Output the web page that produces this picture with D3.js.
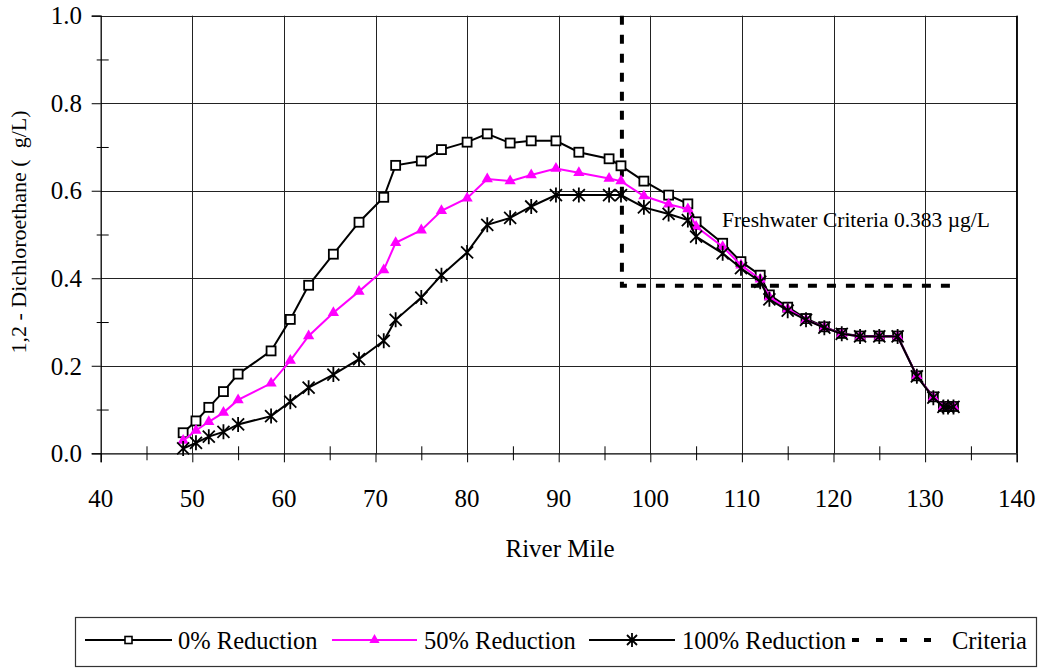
<!DOCTYPE html>
<html><head><meta charset="utf-8">
<script src="https://cdn.jsdelivr.net/npm/d3@7"></script>
<style>body{margin:0;background:#fff;}</style>
</head><body><svg id="c" width="1043" height="669"></svg>
<script>
const riverMile = [49.0,50.4,51.8,53.4,55.0,58.6,60.7,62.7,65.4,68.2,70.9,72.2,75.0,77.2,80.0,82.2,84.7,87.0,89.7,92.2,95.5,96.8,99.3,102.0,104.1,105.0,107.9,109.9,112.0,113.0,115.0,117.0,119.0,120.9,122.9,125.0,127.0,129.1,130.9,132.0,132.5,133.1];
const red0 = [0.047,0.074,0.105,0.141,0.181,0.234,0.306,0.384,0.455,0.528,0.585,0.658,0.668,0.694,0.711,0.730,0.709,0.714,0.714,0.688,0.673,0.657,0.622,0.590,0.570,0.529,0.480,0.438,0.407,0.362,0.334,0.308,0.289,0.274,0.268,0.268,0.268,0.177,0.129,0.107,0.107,0.107];
const red50 = [0.029,0.052,0.072,0.093,0.122,0.160,0.212,0.268,0.321,0.370,0.419,0.481,0.510,0.554,0.583,0.627,0.622,0.636,0.651,0.641,0.628,0.622,0.588,0.569,0.558,0.518,0.472,0.430,0.398,0.357,0.330,0.305,0.288,0.273,0.267,0.267,0.267,0.177,0.128,0.107,0.107,0.107];
const red100 = [0.011,0.024,0.038,0.049,0.066,0.085,0.118,0.150,0.180,0.215,0.257,0.305,0.356,0.407,0.459,0.522,0.538,0.564,0.590,0.590,0.590,0.590,0.562,0.547,0.533,0.495,0.457,0.423,0.392,0.352,0.326,0.305,0.287,0.273,0.267,0.267,0.267,0.176,0.127,0.106,0.106,0.106];
const criteriaX = [96.9, 96.9, 132.8];
const criteriaY = [1.0, 0.383, 0.383];
const xTicks = [40,50,60,70,80,90,100,110,120,130,140];
const yTicks = [0.0,0.2,0.4,0.6,0.8,1.0];
const seriesNames = ["0% Reduction","50% Reduction","100% Reduction","Criteria"];
const criteriaLabel = "Freshwater Criteria 0.383 \u00b5g/L";
const xTitle = "River Mile";
const yTitle = "1,2 - Dichloroethane (\u00a0\u00a0g/L)";

const svg = d3.select("#c");
const L = 100.7, R = 1016.7, T = 15.7, B = 453.3;
const x = d3.scaleLinear().domain([40,140]).range([L,R]);
const y = d3.scaleLinear().domain([0,1]).range([B,T]);
const BASE = 20;
function label(parent, px, py, size, str, anchor, rot, dy){
  return parent.append("text")
    .attr("transform", `translate(${px},${py})${rot?` rotate(${rot})`:""} scale(${size/BASE})`)
    .style("font", BASE+"px 'Liberation Serif'").style("fill","#000")
    .attr("text-anchor", anchor||"start").attr("dy", dy||0).text(str);
}

// gridlines
const g = svg.append("g");
g.selectAll(".vg").data(xTicks.slice(1)).join("line")
  .attr("x1",d=>Math.round(x(d))+0.5).attr("x2",d=>Math.round(x(d))+0.5)
  .attr("y1",y(1)).attr("y2",y(0)).attr("stroke","#222").attr("stroke-width",1);
g.selectAll(".hg").data(yTicks.slice(1)).join("line")
  .attr("x1",x(40)).attr("x2",x(140))
  .attr("y1",d=>Math.round(y(d))+0.5).attr("y2",d=>Math.round(y(d))+0.5).attr("stroke","#222").attr("stroke-width",1);

// axes (lines via d3, labels drawn from the same scales)
const xAxis = d3.axisBottom(x).tickValues(xTicks).tickSize(9).tickFormat("");
const xg = svg.append("g").attr("transform",`translate(0,${B})`).call(xAxis);
const yAxis = d3.axisLeft(y).tickValues(yTicks).tickSize(9).tickFormat("");
const yg = svg.append("g").attr("transform",`translate(${L},0)`).call(yAxis);
[xg,yg].forEach(a=>{
  a.select(".domain").attr("stroke","#000").attr("stroke-width",1.3);
  a.selectAll(".tick line").attr("stroke","#000").attr("stroke-width",1);
});
const labs = svg.append("g");
xTicks.forEach(v=>label(labs, x(v), 507, 25, d3.format("d")(v), "middle"));
yTicks.forEach(v=>label(labs, 82, y(v), 25, d3.format(".1f")(v), "end", 0, "0.35em"));
// minor ticks
const xMinor = d3.axisBottom(x).tickValues(d3.range(45,140,10)).tickSize(7).tickFormat("");
svg.append("g").attr("transform",`translate(0,${B})`).call(xMinor)
  .call(a=>{a.select(".domain").remove();a.selectAll("line").attr("y1",-7).attr("stroke","#000");});
const yMinor = d3.axisLeft(y).tickValues([0.1,0.3,0.5,0.7,0.9]).tickSize(4).tickFormat("");
svg.append("g").attr("transform",`translate(${L},0)`).call(yMinor)
  .call(a=>{a.select(".domain").remove();a.selectAll("line").attr("x2",8).attr("x1",-4).attr("stroke","#000");});
// right border
svg.append("line").attr("x1",x(140)).attr("x2",x(140)).attr("y1",y(1)).attr("y2",y(0)).attr("stroke","#000").attr("stroke-width",1.3);

// titles
label(svg, 560, 557, 25, xTitle, "middle");
label(svg, 26, 232, 22, yTitle, "middle", -90);

// criteria line
const line = d3.line().x(d=>x(d[0])).y(d=>y(d[1]));
svg.append("path").datum(criteriaX.map((v,i)=>[v,criteriaY[i]])).attr("d",line)
  .attr("fill","none").attr("stroke","#000").attr("stroke-width",4).attr("stroke-dasharray","9,10");
label(svg, 722, 227, 21.5, criteriaLabel, "start");

// markers
const starPath = "M-6,-6L6,6M-6,6L6,-6M0,-7.5L0,7.5";
function drawSeries(vals,color,marker){
  const pts = riverMile.map((v,i)=>[v,vals[i]]);
  svg.append("path").datum(pts).attr("d",line).attr("fill","none").attr("stroke",color).attr("stroke-width",2);
  const gm = svg.append("g");
  pts.forEach(p=>{
    const cx=x(p[0]), cy=y(p[1]);
    if(marker==="square") gm.append("rect").attr("x",cx-4.5).attr("y",cy-4.5).attr("width",9).attr("height",9).attr("fill","#fff").attr("stroke","#000").attr("stroke-width",1.8);
    else if(marker==="tri") gm.append("path").attr("d",d3.symbol(d3.symbolTriangle,55)()).attr("transform",`translate(${cx},${cy})`).attr("fill",color);
    else gm.append("path").attr("d",starPath).attr("transform",`translate(${cx},${cy})`).attr("stroke","#000").attr("stroke-width",1.8).attr("fill","none");
  });
}
drawSeries(red0,"#000","square");
drawSeries(red50,"#ff00ff","tri");
drawSeries(red100,"#000","star");

// legend
const lg = svg.append("g");
lg.append("rect").attr("x",75.5).attr("y",617.5).attr("width",961).attr("height",49).attr("fill","#fff").attr("stroke","#333").attr("stroke-width",1.2);
const ly = 640;
const items = [
  {x1:85,x2:172,t:178,color:"#000",m:"square"},
  {x1:332,x2:417,t:424,color:"#ff00ff",m:"tri"},
  {x1:589,x2:675,t:682,color:"#000",m:"star"},
  {x1:852,x2:945,t:952,color:"#000",m:"dash"}
];
items.forEach((it,i)=>{
  if(it.m==="dash"){
    lg.append("line").attr("x1",it.x1).attr("x2",it.x2).attr("y1",ly).attr("y2",ly).attr("stroke","#000").attr("stroke-width",4).attr("stroke-dasharray","7,17");
  } else {
    lg.append("line").attr("x1",it.x1).attr("x2",it.x2).attr("y1",ly).attr("y2",ly).attr("stroke",it.color).attr("stroke-width",2);
    const cx=(it.x1+it.x2)/2;
    if(it.m==="square") lg.append("rect").attr("x",cx-3.5).attr("y",ly-3.5).attr("width",7).attr("height",7).attr("fill","#fff").attr("stroke","#000").attr("stroke-width",1.6);
    else if(it.m==="tri") lg.append("path").attr("d",d3.symbol(d3.symbolTriangle,45)()).attr("transform",`translate(${cx},${ly})`).attr("fill",it.color);
    else lg.append("path").attr("d","M-5,-5L5,5M-5,5L5,-5M0,-7L0,7").attr("transform",`translate(${cx},${ly})`).attr("stroke","#000").attr("stroke-width",1.8);
  }
  label(lg, it.t, ly, 24.5, seriesNames[i], "start", 0, "0.35em");
});
</script></body></html>
